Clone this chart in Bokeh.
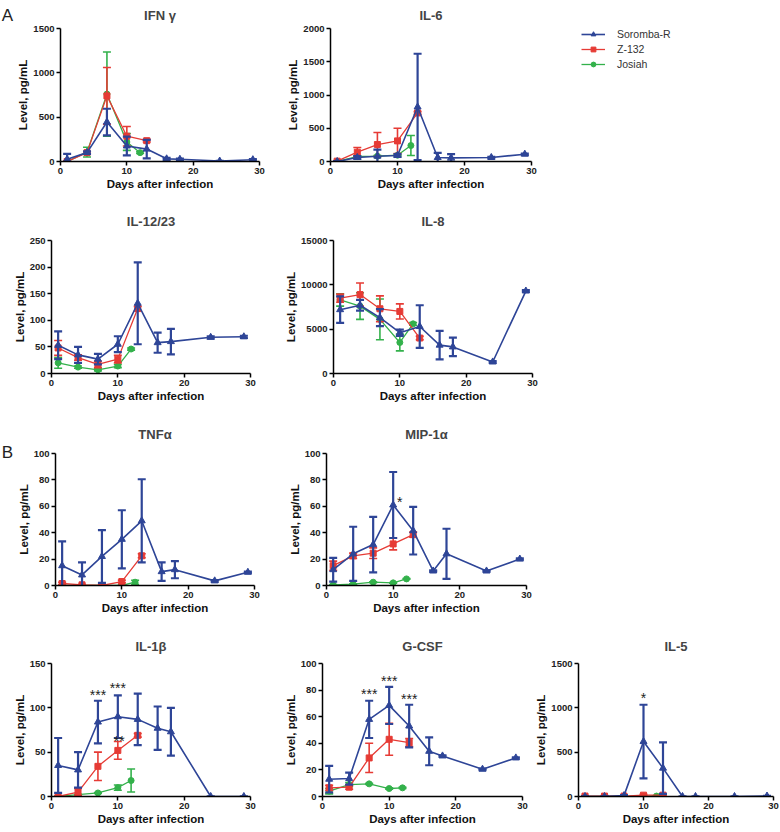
from bokeh.plotting import figure
from bokeh.models import FixedTicker, Range1d, Legend, LegendItem
from bokeh.layouts import column, row
from bokeh.embed import file_html
from bokeh.resources import INLINE
from bokeh.core.properties import value

FONT = "Liberation Sans"
BLUE = "#2e4597"
RED = "#e63b35"
GREEN = "#33b14b"

series_names = ["Soromba-R", "Z-132", "Josiah"]
panel_letters = ["A", "B"]
days_sor = [1, 4, 7, 10, 13, 16, 18, 24, 29]
days_z132 = [1, 4, 7, 10, 13]
days_jos = [1, 4, 7, 10, 12]
x_ticks = [0, 10, 20, 30]

# IFN gamma
ifng_sor = [25, 100, 445, 175, 140, 30, 25, 5, 20]
ifng_sor_err = [60, 15, 150, 105, 105, 10, 8, 3, 8]
ifng_z132 = [0, 100, 740, 285, 235]
ifng_z132_err = [5, 10, 320, 110, 15]
ifng_jos = [0, 105, 760, 220, 100]
ifng_jos_err = [5, 55, 475, 95, 10]
ifng_ticks = [0, 500, 1000, 1500]

# IL-6
il6_sor = [0, 60, 80, 90, 820, 60, 55, 60, 110]
il6_sor_err = [5, 20, 100, 20, 800, 70, 55, 10, 10]
il6_z132 = [5, 140, 255, 310, 730]
il6_z132_err = [10, 70, 180, 190, 20]
il6_jos = [0, 75, 80, 95, 240]
il6_jos_err = [5, 10, 10, 10, 150]
il6_ticks = [0, 500, 1000, 1500, 2000]

# IL-12/23
il12_sor = [53, 35, 27, 55, 132, 58, 60, 68, 69]
il12_sor_err = [26, 15, 10, 15, 77, 19, 24, 2, 2]
il12_z132 = [48, 30, 17, 27, 122]
il12_z132_err = [14, 5, 6, 7, 4]
il12_jos = [20, 12, 7, 14, 46]
il12_jos_err = [10, 2, 2, 3, 2]
il12_ticks = [0, 50, 100, 150, 200, 250]

# IL-8
il8_sor = [7200, 7700, 6300, 4600, 5300, 3200, 3000, 1300, 9300]
il8_sor_err = [1500, 600, 950, 350, 2400, 1600, 1050, 100, 100]
il8_z132 = [8500, 8900, 7300, 7000, 4000]
il8_z132_err = [450, 1300, 1450, 850, 200]
il8_jos = [8300, 7600, 6100, 3500, 5600]
il8_jos_err = [700, 1500, 2300, 950, 150]
il8_ticks = [0, 5000, 10000, 15000]

# TNF alpha
tnf_sor = [15, 8, 22, 35, 49, 10.5, 12, 3.5, 10]
tnf_sor_err = [18.5, 9.5, 20, 22, 31.5, 7, 6.5, 0.5, 0.5]
tnf_z132 = [1.5, 0.5, 0, 3, 22.5]
tnf_z132_err = [1, 0.5, 0.5, 1, 1.5]
tnf_jos = [0, 0, 0, 0, 2.5]
tnf_jos_err = [0.5, 0.5, 0.5, 0.5, 1.5]
tnf_ticks = [0, 20, 40, 60, 80, 100]

# MIP-1 alpha
mip_sor = [12, 24, 31, 61, 41.5, 11, 24, 11, 20]
mip_sor_err = [9, 20.5, 21, 25, 18, 0.5, 19, 0.5, 0.5]
mip_z132 = [15, 22.5, 24.5, 31.5, 38.5]
mip_z132_err = [3.5, 2, 4, 4.5, 2]
mip_jos = [0.5, 1, 2.5, 2, 5]
mip_jos_err = [0.3, 0.3, 0.3, 0.3, 0.3]
mip_ticks = [0, 20, 40, 60, 80, 100]
mip_star_x = [11]
mip_star_y = [63]
mip_star_text = ["*"]

# IL-1 beta
il1b_sor = [35, 30, 84, 90, 87, 77, 73, 0, 0]
il1b_sor_err = [31, 20, 24, 24, 29, 24.5, 27, 0, 0]
il1b_z132 = [0, 5, 34, 52, 69]
il1b_z132_err = [0.5, 4, 16, 10, 2]
il1b_jos = [0, 2, 4, 10, 18]
il1b_jos_err = [0.5, 0.5, 0.5, 3, 13]
il1b_ticks = [0, 50, 100, 150]
il1b_star_x = [7, 10, 10.2]
il1b_star_y = [114, 122, 63]
il1b_star_text = ["***", "***", "**"]

# G-CSF
gcsf_sor = [13, 13.5, 58, 68.5, 53, 34, 30.5, 20.5, 29]
gcsf_sor_err = [10, 4.5, 14, 14, 16, 10.5, 0.5, 0.5, 0.5]
gcsf_z132 = [6.5, 7, 29, 43, 40.5]
gcsf_z132_err = [2, 1.5, 11, 12, 3]
gcsf_jos = [4, 9, 9.5, 6, 6.5]
gcsf_jos_err = [2, 1.5, 0.5, 0.5, 0.5]
gcsf_ticks = [0, 20, 40, 60, 80, 100]
gcsf_star_x = [7, 10, 13]
gcsf_star_y = [77, 87, 73]
gcsf_star_text = ["***", "***", "***"]

# IL-5
il5_sor = [0, 0, 10, 620, 320, 0, 0, 0, 5]
il5_sor_err = [3, 3, 5, 415, 290, 2, 2, 2, 2]
il5_z132 = [5, 5, 5, 15, 15]
il5_z132_err = [5, 5, 5, 10, 10]
il5_jos = [0, 0, 0, 0, 5]
il5_jos_err = [2, 2, 2, 2, 2]
il5_ticks = [0, 500, 1000, 1500]
il5_star_x = [10]
il5_star_y = [1110]
il5_star_text = ["*"]

STYLE = {
    "sor": dict(color=BLUE, marker="triangle", size=7, lw=1.6, elw=2.2),
    "z132": dict(color=RED, marker="square", size=6, lw=1.3, elw=1.6),
    "jos": dict(color=GREEN, marker="circle", size=6, lw=1.3, elw=1.6),
}


def add_series(p, days, mean, err, st):
    hi = [m + e for m, e in zip(mean, err)]
    lo = [max(m - e, 0) for m, e in zip(mean, err)]
    lo_d = [d for d, m, e in zip(days, mean, err) if m - e >= 0]
    lo_v = [m - e for m, e in zip(mean, err) if m - e >= 0]
    c = st["color"]
    p.segment(x0=days, y0=lo, x1=days, y1=hi, line_color=c, line_width=st["elw"])
    p.scatter(x=days, y=hi, marker="dash", size=8, line_color=c, line_width=st["elw"])
    p.scatter(x=lo_d, y=lo_v, marker="dash", size=8, line_color=c, line_width=st["elw"])
    p.line(x=days, y=mean, line_color=c, line_width=st["lw"])
    p.scatter(x=days, y=mean, marker=st["marker"], size=st["size"], fill_color=c, line_color=c)


def blank_fig(fw, fh, bl=0, br=0, bt=0, bb=0, title=None):
    p = figure(frame_width=fw, frame_height=fh, x_range=Range1d(0, 1), y_range=Range1d(0, 1),
               output_backend="svg", toolbar_location=None, x_axis_type=None, y_axis_type=None,
               min_border_left=bl, min_border_right=br, min_border_top=bt, min_border_bottom=bb,
               title=title)
    p.outline_line_color = None
    p.xgrid.visible = False
    p.ygrid.visible = False
    return p


def letter_fig(letter, fh, bt, bb, standoff):
    p = blank_fig(14, fh, bt=bt, bb=bb, title=letter)
    p.title.align = "center"
    p.title.vertical_align = "bottom"
    p.title.text_font = FONT
    p.title.text_font_size = "17px"
    p.title.text_font_style = "normal"
    p.title.text_color = "#222222"
    p.title.standoff = standoff
    return p


def make_panel(title, sor, sor_err, z, z_err, jo, jo_err, ticks, fw, fh,
               bl, br, bt, bb, tstand, stars=None):
    p = figure(frame_width=fw, frame_height=fh,
               x_range=Range1d(0, 30), y_range=Range1d(0, ticks[-1]),
               output_backend="svg", toolbar_location=None,
               min_border_left=bl, min_border_right=br,
               min_border_top=bt, min_border_bottom=bb,
               title=title, x_axis_label="Days after infection",
               y_axis_label="Level, pg/mL")
    p.outline_line_color = None
    p.xgrid.visible = False
    p.ygrid.visible = False
    p.title.align = "center"
    p.title.text_font = FONT
    p.title.text_font_size = "13px"
    p.title.text_font_style = "bold"
    p.title.standoff = tstand
    p.xaxis.ticker = FixedTicker(ticks=x_ticks)
    p.yaxis.ticker = FixedTicker(ticks=ticks)
    for ax in (p.xaxis[0], p.yaxis[0]):
        ax.axis_line_width = 1.5
        ax.axis_line_color = "black"
        ax.major_tick_line_width = 1.5
        ax.major_tick_line_color = "black"
        ax.major_tick_out = 4
        ax.major_tick_in = 0
        ax.minor_tick_line_color = None
        ax.major_label_text_font = FONT
        ax.major_label_text_font_size = "9.5px"
        ax.major_label_text_font_style = "bold"
        ax.major_label_text_color = "#222222"
        ax.major_label_standoff = 2
        ax.axis_label_text_font = FONT
        ax.axis_label_text_font_size = "11.5px"
        ax.axis_label_text_font_style = "bold"
        ax.axis_label_text_color = "#111111"
    p.xaxis.axis_label_standoff = 1
    p.yaxis.axis_label_standoff = 1
    add_series(p, days_jos, jo, jo_err, STYLE["jos"])
    add_series(p, days_z132, z, z_err, STYLE["z132"])
    add_series(p, days_sor, sor, sor_err, STYLE["sor"])
    if stars is not None:
        sx, sy, stxt = stars
        p.text(x=sx, y=sy, text=stxt, text_font=value(FONT), text_font_size="14px",
               text_align="center", text_baseline="middle", text_color="#222222")
    return p


# ---- row 1 ----
p_A = letter_fig(panel_letters[0], 133, 28, 39, 7)
p_ifng = make_panel("IFN γ", ifng_sor, ifng_sor_err, ifng_z132, ifng_z132_err, ifng_jos, ifng_jos_err,
                    ifng_ticks, 199, 133, 42, 20, 28, 39, 11)
p_il6 = make_panel("IL-6", il6_sor, il6_sor_err, il6_z132, il6_z132_err, il6_jos, il6_jos_err,
                   il6_ticks, 201, 133, 51, 10, 28, 39, 11)

p_leg = blank_fig(195, 133, bl=40, br=0, bt=28, bb=39)
items = []
for name, key in zip(series_names, ["sor", "z132", "jos"]):
    st = STYLE[key]
    r1 = p_leg.line(x=[-5, -4], y=[-5, -4], line_color=st["color"], line_width=st["lw"])
    r2 = p_leg.scatter(x=[-5], y=[-5], marker=st["marker"], size=st["size"] - 1,
                       fill_color=st["color"], line_color=st["color"])
    items.append(LegendItem(label=name, renderers=[r1, r2]))
leg = Legend(items=items, location="top_left", margin=0, padding=0, spacing=3,
             glyph_width=24, glyph_height=12, label_height=12, label_standoff=12,
             label_text_font=FONT, label_text_font_size="10.5px", label_text_color="#333333",
             border_line_color=None, background_fill_alpha=0)
p_leg.add_layout(leg)

# ---- row 2 ----
p_il12 = make_panel("IL-12/23", il12_sor, il12_sor_err, il12_z132, il12_z132_err, il12_jos, il12_jos_err,
                    il12_ticks, 199, 133, 51, 20, 40, 40, 23)
p_il8 = make_panel("IL-8", il8_sor, il8_sor_err, il8_z132, il8_z132_err, il8_jos, il8_jos_err,
                   il8_ticks, 199, 133, 63, 10, 40, 40, 23)

# ---- row 3 ----
p_B = letter_fig(panel_letters[1], 132, 40, 39, -17)
p_tnf = make_panel("TNFα", tnf_sor, tnf_sor_err, tnf_z132, tnf_z132_err, tnf_jos, tnf_jos_err,
                   tnf_ticks, 199, 132, 37, 20, 40, 39, 23)
p_mip = make_panel("MIP-1α", mip_sor, mip_sor_err, mip_z132, mip_z132_err, mip_jos, mip_jos_err,
                   mip_ticks, 200, 132, 52, 10, 40, 39, 23,
                   stars=(mip_star_x, mip_star_y, mip_star_text))

# ---- row 4 ----
p_il1b = make_panel("IL-1β", il1b_sor, il1b_sor_err, il1b_z132, il1b_z132_err, il1b_jos, il1b_jos_err,
                    il1b_ticks, 199, 133, 51, 20, 39, 34, 20,
                    stars=(il1b_star_x, il1b_star_y, il1b_star_text))
p_gcsf = make_panel("G-CSF", gcsf_sor, gcsf_sor_err, gcsf_z132, gcsf_z132_err, gcsf_jos, gcsf_jos_err,
                    gcsf_ticks, 200, 133, 52, 10, 39, 34, 20,
                    stars=(gcsf_star_x, gcsf_star_y, gcsf_star_text))
p_il5 = make_panel("IL-5", il5_sor, il5_sor_err, il5_z132, il5_z132_err, il5_jos, il5_jos_err,
                   il5_ticks, 195, 133, 40, 11, 39, 34, 20,
                   stars=(il5_star_x, il5_star_y, il5_star_text))

layout = column(
    row(p_A, p_ifng, p_il6, p_leg, spacing=0),
    row(p_il12, p_il8, spacing=0),
    row(p_B, p_tnf, p_mip, spacing=0),
    row(p_il1b, p_gcsf, p_il5, spacing=0),
    spacing=0,
)

open("out.html", "w").write(file_html(layout, INLINE))
